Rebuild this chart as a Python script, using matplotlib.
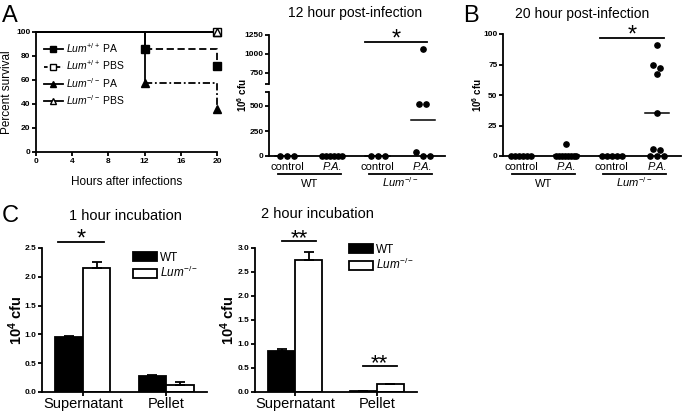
import numpy as np
import matplotlib
matplotlib.use("Agg")
import matplotlib.pyplot as plt
import matplotlib.transforms as mtrans
from matplotlib.lines import Line2D

plt.rcParams['font.family'] = ['Liberation Sans', 'DejaVu Sans']
plt.rcParams['mathtext.fontset'] = 'custom'
plt.rcParams['mathtext.rm'] = 'Liberation Sans'
plt.rcParams['mathtext.it'] = 'Liberation Sans:italic'
plt.rcParams['mathtext.bf'] = 'Liberation Sans:bold'

# ---------------- data ----------------
hours = [0, 12, 20]
surv_wt_pa = [100, 85.7, 71.4]
surv_wt_pbs = [100, 100, 100]
surv_ko_pa = [100, 57.1, 35.7]
surv_ko_pbs = [100, 100, 100]
surv_labels = [r"$\mathit{Lum}^{+/+}$ PA", r"$\mathit{Lum}^{+/+}$ PBS",
               r"$\mathit{Lum}^{-/-}$ PA", r"$\mathit{Lum}^{-/-}$ PBS"]

dot_groups = ["control", "P.A.", "control", "P.A."]
genotypes = ["WT", r"$\mathit{Lum}^{-/-}$"]
cfu_12h = [[0, 0, 0],
           [0, 0, 0, 0, 0, 0],
           [0, 0, 0],
           [1060, 525, 520, 40, 5, 5]]
cfu_20h = [[0, 0, 0, 0, 0, 0],
           [10, 0, 0, 0, 0, 0, 0, 0, 0],
           [0, 0, 0, 0, 0],
           [91, 75, 72, 67, 35, 6, 5, 0, 0, 0]]

fractions = ["Supernatant", "Pellet"]
inc1_wt = [0.96, 0.27]
inc1_wt_err = [0.01, 0.02]
inc1_ko = [2.15, 0.13]
inc1_ko_err = [0.10, 0.05]
inc2_wt = [0.85, 0.02]
inc2_wt_err = [0.05, 0.005]
inc2_ko = [2.76, 0.16]
inc2_ko_err = [0.15, 0.01]

# ---------------- helpers ----------------
W, H = 683, 420
fig = plt.figure(figsize=(W / 100, H / 100), dpi=100)
LW = 1.3
CAT_PX = 45.3


def box(x0, y0, x1, y1):
    return fig.add_axes([x0 / W, 1 - y1 / H, (x1 - x0) / W, (y1 - y0) / H])


def fy(py):
    return 1 - py / H


def clean(ax):
    ax.spines['top'].set_visible(False)
    ax.spines['right'].set_visible(False)
    ax.spines['left'].set_linewidth(LW)
    ax.spines['bottom'].set_linewidth(LW)
    ax.tick_params(direction='out', length=3, width=LW, labelsize=6, pad=1)


def swarm(vals, ppu, step=7.0, span=20.0):
    # side by side offsets (pixels) for points of about the same value
    vals = np.asarray(vals, float)
    order = np.argsort(-vals, kind='stable')
    offs = np.zeros(len(vals))
    rows, row = [], []
    for i in order:
        if row and (vals[row[0]] - vals[i]) * ppu > 5:
            rows.append(row)
            row = []
        row.append(i)
    rows.append(row)
    for row in rows:
        n = len(row)
        d = step if n < 2 else min(step, span / (n - 1))
        for k, i in enumerate(row):
            offs[i] = (k - (n - 1) / 2) * d
    return offs


def dots(ax, data, ppu, lo=-np.inf, hi=np.inf):
    for i, vals in enumerate(data):
        vals = np.asarray(vals, float)
        off = swarm(vals, ppu) / CAT_PX
        keep = (vals >= lo) & (vals <= hi)
        ax.plot(i + off[keep], vals[keep], 'o', color='k', ms=3.8,
                clip_on=False, zorder=3)
        m = vals.mean()
        if lo <= m <= hi:
            ax.plot([i - 0.27, i + 0.27], [m, m], color='k', lw=1.1,
                    clip_on=False)


def cat_labels(ax, bottom_py):
    ax.set_xticks(range(len(dot_groups)), dot_groups, fontsize=8)
    for lab in ax.get_xticklabels()[1::2]:
        lab.set_fontstyle('italic')
    ax.tick_params(axis='x', length=0, pad=4.3)
    tr = mtrans.blended_transform_factory(ax.transData, fig.transFigure)
    for g, name in enumerate(genotypes):
        a, b = 2 * g, 2 * g + 1
        ax.plot([a - 0.2, b + 0.2], [fy(bottom_py + 18)] * 2, transform=tr,
                color='k', lw=LW, clip_on=False)
        ax.text((a + b) / 2, fy(bottom_py + 31), name, transform=tr,
                ha='center', va='baseline', fontsize=8)


def sig(ax, x0, x1, py, stars, fs=17):
    tr = mtrans.blended_transform_factory(ax.transData, fig.transFigure)
    ax.plot([x0, x1], [fy(py)] * 2, transform=tr, color='k', lw=LW,
            clip_on=False)
    centre = py - 5.5
    ax.text((x0 + x1) / 2, fy(centre + 0.37 * fs * 100 / 72), stars,
            transform=tr, ha='center', va='baseline', fontsize=fs)


# ---------------- A: survival ----------------
axA = box(36, 32, 217, 152)
clean(axA)
axA.set_xlim(0, 20)
axA.set_ylim(0, 100)
axA.set_xticks(range(0, 21, 4), [str(v) for v in range(0, 21, 4)],
               fontweight='bold')
axA.set_yticks(range(0, 101, 20), [str(v) for v in range(0, 101, 20)],
               fontweight='bold')
kw = dict(color='k', lw=LW, where='post', clip_on=False)
axA.step(hours, surv_wt_pbs, **kw)
axA.step(hours, surv_ko_pbs, **kw)
axA.step(hours[:2], surv_wt_pa[:2], **kw)
axA.step(hours[:2], surv_ko_pa[:2], **kw)
axA.step(hours[1:], surv_wt_pa[1:], ls=(0, (4, 2)), **kw)
axA.step(hours[1:], surv_ko_pa[1:], ls=(0, (4, 1.5, 1, 1.5)), **kw)
mk = dict(color='k', ms=5.5, ls='none', clip_on=False, zorder=3)
axA.plot(hours[1:], surv_wt_pa[1:], marker='s', **mk)
axA.plot(hours[1:], surv_ko_pa[1:], marker='^', **mk)
axA.plot(hours[-1:], surv_wt_pbs[-1:], marker='s', mfc='white', **mk)
axA.plot(hours[-1:], surv_ko_pbs[-1:], marker='^', mfc='none', **mk)
handles = [Line2D([], [], color='k', lw=LW, marker='s', ms=5),
           Line2D([], [], color='k', lw=LW, ls=(0, (2, 1.5)), marker='s',
                  mfc='white', ms=5),
           Line2D([], [], color='k', lw=LW, marker='^', ms=5),
           Line2D([], [], color='k', lw=LW, marker='^', mfc='white', ms=5)]
axA.legend(handles, surv_labels, loc='upper left', bbox_to_anchor=(44 / W, fy(41)),
           bbox_transform=fig.transFigure, frameon=False, fontsize=7.5,
           handlelength=1.8, handletextpad=0.3, labelspacing=0.35,
           borderpad=0, borderaxespad=0)
axA.set_xlabel("Hours after infections", fontsize=8.5, labelpad=8)
axA.set_ylabel("Percent survival", fontsize=8.5, labelpad=2)

# ---------------- 12 hour (broken axis) ----------------
ax12t = box(269, 35, 445, 84)
ax12 = box(269, 92, 445, 156)
for ax in (ax12t, ax12):
    clean(ax)
    ax.set_xlim(-0.4, 3.49)
ax12t.spines['bottom'].set_visible(False)
ax12t.tick_params(axis='x', bottom=False, labelbottom=False)
ax12t.set_ylim(600, 1250)
ax12t.set_yticks([600, 750, 1000, 1250], ['', '750', '1000', '1250'],
                 fontweight='bold')
ax12.set_ylim(0, 640)
ax12.set_yticks([0, 250, 500, 640], ['0', '250', '500', ''], fontweight='bold')
dots(ax12t, cfu_12h, 0.1, lo=620)
dots(ax12, cfu_12h, 0.1, hi=640)
cat_labels(ax12, 156)
sig(ax12t, 1.72, 3.09, 42, '*')
fig.text(242 / W, fy(95), r"$\mathbf{10^6}$ cfu", rotation=90, fontsize=7,
         fontweight='bold', ha='center', va='center')
fig.text(355 / W, fy(17), "12 hour post-infection", ha='center',
         va='baseline', fontsize=10)

# ---------------- B: 20 hour ----------------
axB = box(503, 34, 681, 156)
clean(axB)
axB.set_xlim(-0.4, 3.53)
axB.set_ylim(0, 100)
axB.set_yticks(range(0, 101, 25), [str(v) for v in range(0, 101, 25)],
               fontweight='bold')
dots(axB, cfu_20h, 1.22)
cat_labels(axB, 156)
sig(axB, 1.74, 3.15, 38, '*')
fig.text(477 / W, fy(95), r"$\mathbf{10^6}$ cfu", rotation=90, fontsize=7,
         fontweight='bold', ha='center', va='center')
fig.text(582 / W, fy(18), "20 hour post-infection", ha='center',
         va='baseline', fontsize=10)


# ---------------- C: incubations ----------------
def bar_panel(ax, wt, wt_err, ko, ko_err, ymax, label_px):
    clean(ax)
    x = np.arange(len(fractions))
    w = 0.33
    ekw = dict(lw=LW, capthick=LW)
    ax.bar(x - w / 2, wt, w, color='k', edgecolor='k', lw=LW,
           yerr=[np.zeros(len(wt)), wt_err], capsize=3.5, error_kw=ekw,
           label='WT')
    ax.bar(x + w / 2, ko, w, color='white', edgecolor='k', lw=LW,
           yerr=[np.zeros(len(ko)), ko_err], capsize=3.5, error_kw=ekw,
           label=r"$\mathit{Lum}^{-/-}$")
    ax.set_xlim(-0.49, 1.49)
    ax.set_ylim(0, ymax)
    t = np.arange(0, ymax + 0.01, 0.5)
    ax.set_yticks(t, [f"{v:.1f}" for v in t], fontweight='bold')
    ax.set_xticks(x, fractions, fontsize=10.5)
    ax.tick_params(axis='x', pad=0.5)
    fig.text(label_px / W, fy(320), r"$\mathbf{10^4}$ cfu", rotation=90,
             fontsize=10.5, fontweight='bold', ha='center', va='center')


axC1 = box(42, 248, 207, 392)
bar_panel(axC1, inc1_wt, inc1_wt_err, inc1_ko, inc1_ko_err, 2.5, 16)
axC1.legend(loc='upper left', bbox_to_anchor=(133 / W, fy(252)),
            bbox_transform=fig.transFigure, frameon=False, fontsize=8.5,
            handlelength=2.0, handleheight=0.8, handletextpad=0.3,
            labelspacing=0.1, borderpad=0, borderaxespad=0)
sig(axC1, -0.3, 0.25, 242, '*')
fig.text(125 / W, fy(220), "1 hour incubation", ha='center', va='baseline',
         fontsize=10.5)

axC2 = box(255, 248, 417, 392)
bar_panel(axC2, inc2_wt, inc2_wt_err, inc2_ko, inc2_ko_err, 3.0, 228)
axC2.legend(loc='upper left', bbox_to_anchor=(349 / W, fy(244)),
            bbox_transform=fig.transFigure, frameon=False, fontsize=8.5,
            handlelength=2.0, handleheight=0.8, handletextpad=0.3,
            labelspacing=0.1, borderpad=0, borderaxespad=0)
sig(axC2, -0.16, 0.26, 241, '**', fs=16)
sig(axC2, 0.83, 1.24, 366, '**', fs=16)
fig.text(317 / W, fy(218), "2 hour incubation", ha='center', va='baseline',
         fontsize=10.5)

# panel letters
for letter, px, py in [("A", 2, 22), ("B", 463, 22), ("C", 2, 222)]:
    fig.text(px / W, fy(py), letter, fontsize=17, va='baseline')

fig.savefig("out.png", dpi=100)
